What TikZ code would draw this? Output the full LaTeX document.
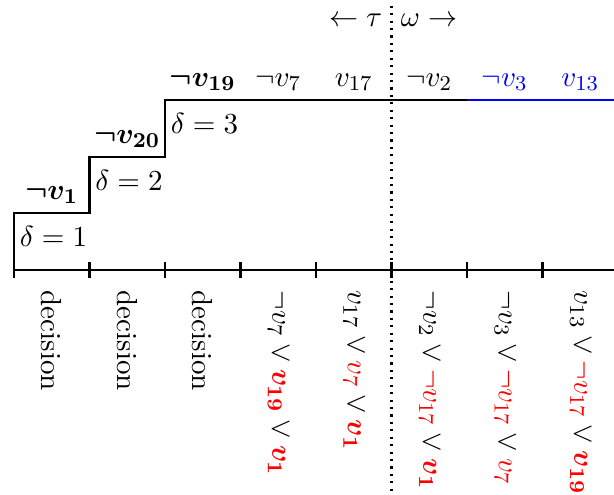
\documentclass[tikz,border=0pt]{standalone}
\usepackage{amsmath,amssymb,bm}
\usepackage{tikz}

\begin{document}
\begin{tikzpicture}[every node/.style={font=\fontsize{10.95}{13.6}\selectfont}, lit/.style={anchor=south}, lvl/.style={anchor=west, inner sep=2pt}, clause/.style={rotate=-90, anchor=west}]
	\useasboundingbox (-0.185,-2.967) rectangle (7.947,3.576);
	\draw[thick] (0,0) -- (8,0);
	\draw[thick] (0,-0.1) -- (0,0.1) (1,-0.1) -- (1,0.1) (2,-0.1) -- (2,0.1) (3,-0.1) -- (3,0.1) (4,-0.1) -- (4,0.1) (5,-0.1) -- (5,0.1) (6,-0.1) -- (6,0.1) (7,-0.1) -- (7,0.1);
	\draw[thick] (0,0) -- (0,0.75) -- (1,0.75) -- (1,1.5) -- (2,1.5) -- (2,2.25) -- (6,2.25);
	\draw[thick, blue] (6,2.25) -- (8,2.25);
	\draw[thick, dotted] (5,3.5) -- (5,-3);
	\node[anchor=east] (tau) at (5,3.31) {$\leftarrow\tau$};
	\node[anchor=west] (omega) at (5,3.31) {$\omega\rightarrow$};
	% decisions and the trail
	\node[lit] (d1) at (0.5,0.75) {$\bm{\neg v_{1}}$};
	\node[lit] (d20) at (1.5,1.5) {$\bm{\neg v_{20}}$};
	\node[lit] (d19) at (2.5,2.25) {$\bm{\neg v_{19}}$};
	\node[lit] (p7) at (3.5,2.25) {$\neg v_7$};
	\node[lit] (p17) at (4.5,2.25) {$v_{17}$};
	\node[lit] (p2) at (5.5,2.25) {$\neg v_2$};
	\node[lit, text=blue] (p3) at (6.5,2.25) {$\neg v_3$};
	\node[lit, text=blue] (p13) at (7.5,2.25) {$v_{13}$};
	\node[lvl] (lv1) at (0,0.44) {$\delta=1$};
	\node[lvl] (lv2) at (1,1.19) {$\delta=2$};
	\node[lvl] (lv3) at (2,1.94) {$\delta=3$};
	% reasons
	\node[clause] (r1) at (0.5,-0.15) {decision};
	\node[clause] (r20) at (1.5,-0.15) {decision};
	\node[clause] (r19) at (2.5,-0.15) {decision};
	\node[clause] (r7) at (3.5,-0.15) {$\neg v_7\lor{\color{red}\bm{v_{19}}}\lor{\color{red}\bm{v_{1}}}$};
	\node[clause] (r17) at (4.5,-0.15) {$v_{17}\lor{\color{red}v_7}\lor{\color{red}\bm{v_{1}}}$};
	\node[clause] (r2) at (5.5,-0.15) {$\neg v_2\lor{\color{red}\neg v_{17}}\lor{\color{red}\bm{v_{1}}}$};
	\node[clause] (r3) at (6.5,-0.15) {$\neg v_3\lor{\color{red}\neg v_{17}}\lor{\color{red}v_7}$};
	\node[clause] (r13) at (7.5,-0.15) {$v_{13}\lor{\color{red}\neg v_{17}}\lor{\color{red}\bm{v_{19}}}$};
\end{tikzpicture}
\end{document}
